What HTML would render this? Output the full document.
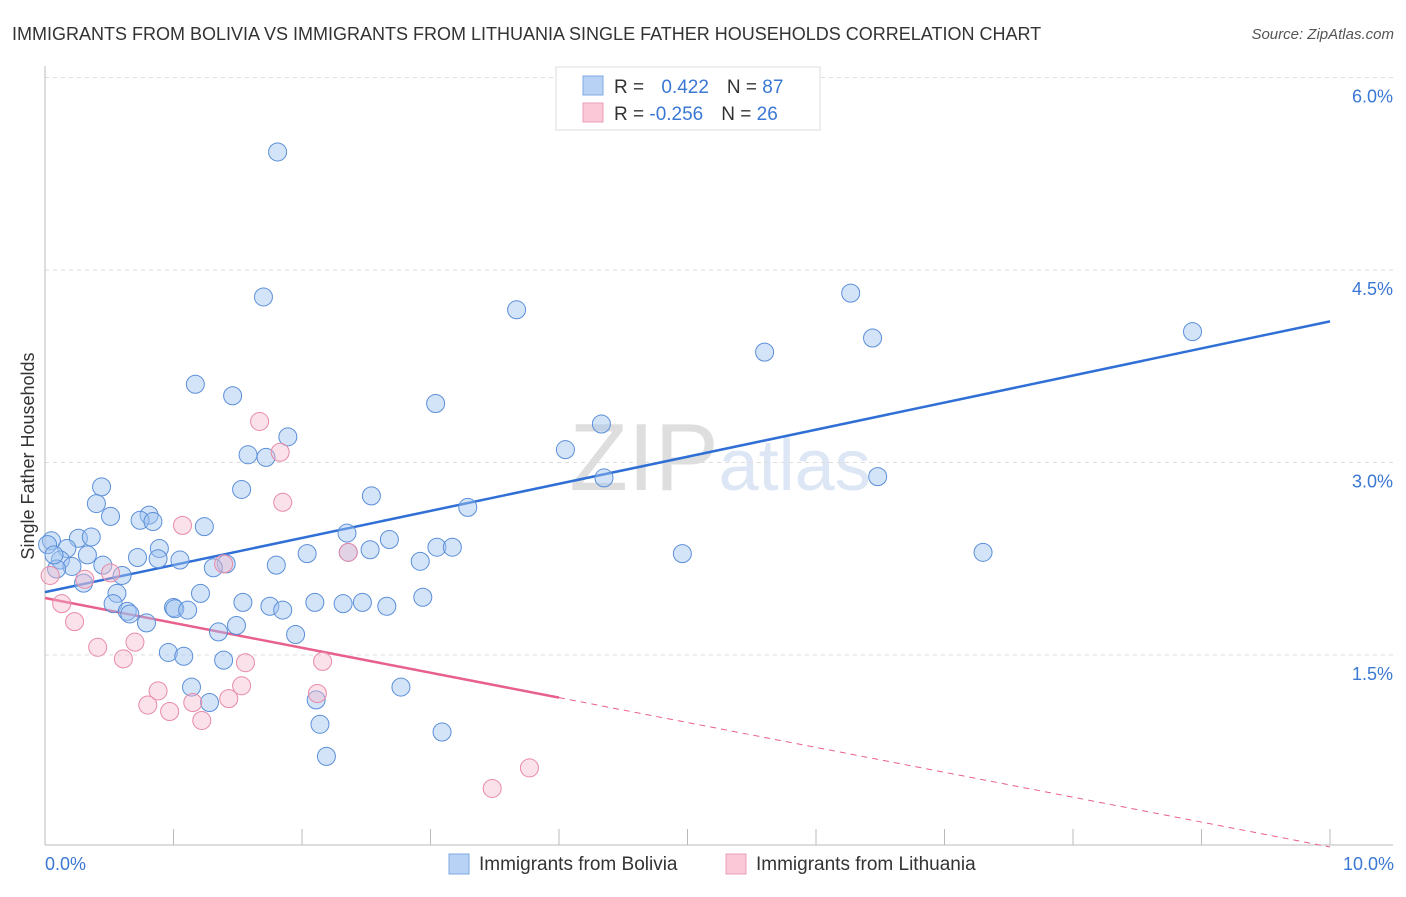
<!DOCTYPE html>
<html><head><meta charset="utf-8"><style>
body{margin:0;background:#fff;font-family:"Liberation Sans",sans-serif}
svg text{font-family:"Liberation Sans",sans-serif}
</style></head><body>
<svg id="chart" width="1406" height="892" viewBox="0 0 1406 892" xmlns="http://www.w3.org/2000/svg">
<text x="12" y="40" font-size="18" fill="#333">IMMIGRANTS FROM BOLIVIA VS IMMIGRANTS FROM LITHUANIA SINGLE FATHER HOUSEHOLDS CORRELATION CHART</text>
<text x="1394" y="39" font-size="15" fill="#555" font-style="italic" text-anchor="end">Source: ZipAtlas.com</text>
<text x="720" y="490" font-size="96" fill="#e6e6e6" text-anchor="middle" font-family="Liberation Serif"><tspan fill="#dedede">ZIP</tspan><tspan fill="#dce6f4" font-family="Liberation Sans" font-size="72">atlas</tspan></text>
<g id="grid"></g><g id="axes"></g><g id="lines"></g><g id="pts"></g>
<text transform="translate(34,456) rotate(-90)" font-size="18" fill="#333" text-anchor="middle">Single Father Households</text>
<text x="45" y="870" font-size="18" fill="#3a78d4">0.0%</text>
<text x="1394" y="870" font-size="18" fill="#3a78d4" text-anchor="end">10.0%</text>
<g>
<rect x="556" y="67" width="264" height="63" fill="#fff" stroke="#ddd"/>
<rect x="583" y="76" width="20" height="19" fill="#b8d2f5" stroke="#7fa9e3"/>
<rect x="583" y="103" width="20" height="19" fill="#fac8d7" stroke="#ee9fb7"/>
<text x="614" y="93" font-size="19" fill="#333">R = <tspan fill="#3a78d4" dx="12">0.422</tspan><tspan dx="18" fill="#333">N = </tspan><tspan fill="#3a78d4">87</tspan></text>
<text x="614" y="120" font-size="19" fill="#333">R = <tspan fill="#3a78d4">-0.256</tspan><tspan dx="18" fill="#333">N = </tspan><tspan fill="#3a78d4">26</tspan></text>
</g>
<g>
<rect x="449" y="854" width="20" height="20" fill="#b8d2f5" stroke="#7fa9e3"/>
<text x="479" y="870" font-size="19" fill="#333">Immigrants from Bolivia</text>
<rect x="726" y="854" width="20" height="20" fill="#fac8d7" stroke="#ee9fb7"/>
<text x="756" y="870" font-size="19" fill="#333">Immigrants from Lithuania</text>
</g>
</svg>
<script>
const yTicks=[1.5,3.0,4.5,6.0];
const xTicks=[1,2,3,4,5,6,7,8,9,10];
const boliviaX=[1.81,1.70,3.67,6.27,8.93,5.60,6.44,1.17,1.46,3.04,4.33,1.89,4.05,1.58,1.72,4.35,6.48,1.53,0.44,2.54,0.40,3.29,0.51,0.81,0.74,0.84,1.24,2.35,0.26,0.36,0.05,2.68,3.05,3.17,0.89,0.17,2.04,2.53,2.36,4.96,7.30,0.33,0.12,0.72,0.88,1.05,2.92,1.80,1.41,0.21,0.45,0.09,1.31,0.60,0.30,1.21,0.56,2.94,1.54,0.53,1.75,1.85,2.10,2.32,2.47,2.66,0.64,0.66,1.00,1.01,1.11,1.49,0.79,1.35,1.95,0.96,1.08,1.39,1.14,2.77,2.11,1.28,2.14,3.09,2.19,0.02,0.07];
const boliviaY=[5.42,4.29,4.19,4.32,4.02,3.86,3.97,3.61,3.52,3.46,3.30,3.20,3.10,3.06,3.04,2.88,2.89,2.79,2.81,2.74,2.68,2.65,2.58,2.59,2.55,2.54,2.50,2.45,2.41,2.42,2.39,2.40,2.34,2.34,2.33,2.33,2.29,2.32,2.30,2.29,2.30,2.28,2.24,2.26,2.25,2.24,2.23,2.20,2.21,2.19,2.20,2.17,2.18,2.12,2.06,1.98,1.98,1.95,1.91,1.90,1.88,1.85,1.91,1.90,1.91,1.88,1.84,1.82,1.87,1.86,1.85,1.73,1.75,1.68,1.66,1.52,1.49,1.46,1.25,1.25,1.15,1.13,0.96,0.90,0.71,2.36,2.28];
const lithX=[1.67,1.83,1.85,1.07,2.36,1.39,0.51,0.31,0.13,0.23,0.70,0.41,0.61,1.56,2.16,0.88,1.53,2.12,0.80,1.15,0.97,1.43,1.22,3.77,3.48,0.04];
const lithY=[3.32,3.08,2.69,2.51,2.30,2.21,2.14,2.09,1.90,1.76,1.60,1.56,1.47,1.44,1.45,1.22,1.26,1.20,1.11,1.13,1.06,1.16,0.99,0.62,0.46,2.12];
const boliviaTrend=[1.99,4.10];
const lithTrend=[1.944,-0.194];
const X=v=>45+v*128.5, Y=v=>847.5-v*128.33;
const NS='http://www.w3.org/2000/svg';
function mk(p,t,a){const e=document.createElementNS(NS,t);for(const k in a)e.setAttribute(k,a[k]);document.getElementById(p).appendChild(e);return e;}
yTicks.forEach(t=>{
 const l=mk('grid','line',{x1:45,x2:1393,y1:Y(t),y2:Y(t),stroke:'#ddd','stroke-dasharray':'4,4'});
 
 
 const tx=mk('grid','text',{x:1393,y:Y(t)+25,'font-size':18,fill:'#3a78d4','text-anchor':'end'});
 tx.textContent=t.toFixed(1)+'%';
 
 
});
const ax=mk('axes','line',{x1:45,x2:45,y1:66,y2:845,stroke:'#bbb'});


const bx=mk('axes','line',{x1:45,x2:1393,y1:845,y2:845,stroke:'#bbb'});


xTicks.forEach(t=>{
 const l=mk('axes','line',{x1:X(t),x2:X(t),y1:829,y2:845,stroke:'#bbb'});
 
 
});
const bl=mk('lines','line',{x1:X(0),y1:Y(boliviaTrend[0]),x2:X(10),y2:Y(boliviaTrend[1]),stroke:'#2f6fd6','stroke-width':2.5});


const pl=mk('lines','line',{x1:X(0),y1:Y(lithTrend[0]),x2:X(4),y2:Y(lithTrend[0]+4*lithTrend[1]),stroke:'#e8608c','stroke-width':2.5});


const pd=mk('lines','line',{x1:X(4),y1:Y(lithTrend[0]+4*lithTrend[1]),x2:X(10),y2:Y(lithTrend[0]+10*lithTrend[1]),stroke:'#e8608c','stroke-width':1,'stroke-dasharray':'6,5'});


boliviaX.forEach((x,i)=>{
 const c=mk('pts','circle',{cx:X(x),cy:Y(boliviaY[i]),r:9,fill:'rgba(160,196,240,0.45)',stroke:'#5b8fd9','stroke-width':1});
 
 
});
lithX.forEach((x,i)=>{
 const c=mk('pts','circle',{cx:X(x),cy:Y(lithY[i]),r:9,fill:'rgba(246,182,202,0.4)',stroke:'#e88aa8','stroke-width':1});
 
 
});
</script>
</body></html>
